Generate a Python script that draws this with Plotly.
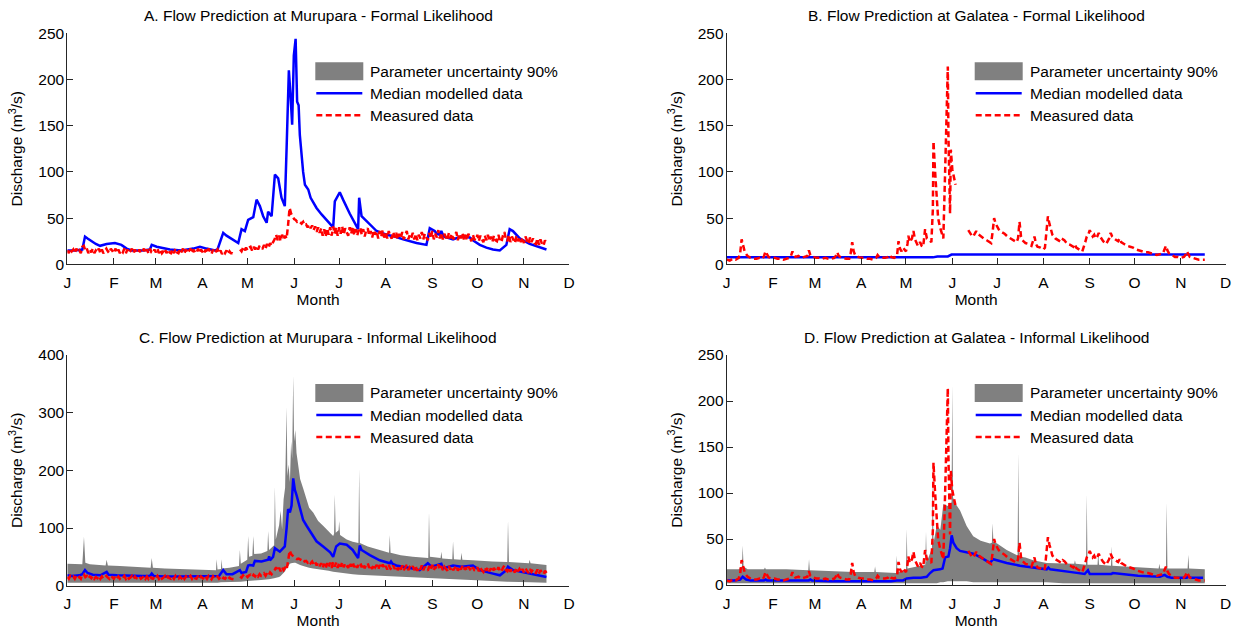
import plotly.graph_objects as go

W, H = 1247, 631
FONT = "Arial, Liberation Sans, Helvetica, sans-serif"
FS = 15.5

MONTH_DAYS = [0, 31, 59, 90, 120, 151, 181, 212, 243, 273, 304, 334]
MONTH_LABELS = ["J", "F", "M", "A", "M", "J", "J", "A", "S", "O", "N", "D"]

TITLES = [
    "A. Flow Prediction at Murupara - Formal Likelihood",
    "B. Flow Prediction at Galatea - Formal Likelihood",
    "C. Flow Prediction at Murupara - Informal Likelihood",
    "D. Flow Prediction at Galatea - Informal Likelihood",
]
LEGEND_LABELS = ["Parameter uncertainty 90%", "Median modelled data", "Measured data"]
Y_TITLE = "Discharge (m<sup>3</sup>/s)"
X_TITLE = "Month"

# ---------------- Murupara measured discharge (daily, day 0 = 1 Jan) ----------------
MUR_MEAS = [
    15, 12, 17, 14, 16, 12, 17, 13, 15, 12,
    19, 20, 15, 17, 12, 16, 13, 17, 12, 15,
    13, 17, 12, 16, 12, 15, 17, 14, 12, 17,
    14, 12, 17, 13, 16, 12, 15, 13, 17, 12,
    16, 12, 14, 17, 12, 16, 13, 12, 16, 12,
    14, 17, 12, 16, 12, 17, 13, 12, 16, 13,
    17, 12, 16, 12, 14, 17, 12, 16, 13, 12,
    16, 12, 17, 13, 12, 16, 13, 17, 12, 16,
    12, 14, 17, 12, 16, 13, 12, 17, 12, 16,
    14, 11, 16, 12, 17, 13, 11, 16, 12, 14,
    16, 12, 15, 11, 14, 12, 15, 11, 14, 12,
    12, 11, None, None, None, 16, 14, 18, 15, 18,
    15, 18, 19, 15, 19, 16, 20, 16, 20, 17,
    17, 21, 17, 22, 18, 23, 20, 24, 27, 32,
    26, 31, 25, 32, 27, 31, 28, 43, 61, 55,
    52, 49, 48, 46, 47, 45, 44, 46, 42, 43,
    40, 43, 39, 42, 37, 41, 35, 40, 34, 39,
    31, 38, 30, 39, 32, 40, 31, 41, 33, 40,
    31, 40, 33, 41, 32, 39, 35, 31, 40, 33,
    41, 32, 38, 31, 37, 40, 32, 38, 30, 37,
    39, 31, 36, 29, 37, 32, 36, 28, 36, 30,
    37, 29, 34, 28, 36, 30, 28, 35, 29, 34,
    27, 33, 28, 35, 27, 33, 36, 27, 32, 29,
    34, 27, 33, 26, 32, 28, 35, 27, 33, 29,
    26, 34, 28, 36, 27, 33, 29, 37, 28, 34,
    27, 33, 30, 26, 34, 28, 33, 27, 31, 35,
    26, 33, 28, 34, 27, 32, 26, 33, 29, 25,
    32, 27, 26, 32, 25, 31, 27, 24, 31, 26,
    32, 25, 30, 24, 31, 26, 25, 32, 26, 24,
    31, 35, 27, 25, 32, 24, 30, 26, 23, 31,
    25, 29, 24, 29, 23, 30, 25, 22, 29, 24,
    28, 23, 22, 28, 21, 27, 22, 20, 26, 22,
]
MUR_MEAS_DAY = list(range(len(MUR_MEAS)))

# ---------------- Galatea measured discharge ----------------
GAL_MEAS_DAY = [
    0, 2, 4, 6, 8, 9, 10, 11, 12, 13,
    14, 16, 18, 20, 22, 24, 25, 26, 27, 28,
    30, 32, 34, 36, 38, 40, 42, 43, 44, 45,
    46, 48, 50, 52, 54, 55, 56, 58, 60, 62,
    64, 66, 68, 70, 72, 73, 74, 75, 76, 78,
    80, 82, 83, 84, 85, 86, 88, 90, 92, 94,
    96, 98, 100, 101, 102, 104, 106, 108, 109, 110,
    112, 114, 115, 116, 117, 118, 120, 121, 121.6, 122.5,
    124, 125, 126, 128, 129.4, 130.5, 131.5, 132.8, 134, 135.7,
    137, 138, 138.4, 139.5, 140.6, 141.5, 142.8, 144, 145, 146.2,
    147.3, 148, 148.4, 149, 149.5, 150, 151, 152, 152.8, 153.2,
    157, 161.7, 163, 164, 165, 166, 167, 168, 170, 172,
    174, 176, 177, 178, 179, 180, 181, 182, 184, 186,
    188, 190, 192, 194, 195, 196, 197, 198, 200, 202,
    204, 205, 206, 207, 208, 210, 212, 213, 214, 215,
    216, 217, 218, 220, 222, 224, 225, 226, 228, 230,
    232, 233, 234, 236, 238, 240, 241, 242, 243, 244,
    245, 246, 247, 248, 249, 250, 252, 254, 256, 257,
    258, 260, 262, 263, 264, 266, 268, 270, 272, 274,
    276, 278, 280, 282, 284, 286, 288, 290, 292, 293,
    294, 295, 296, 298, 300, 302, 304, 306, 307, 308,
    309, 310, 312, 314, 316, 318, 320,
]
GAL_MEAS = [
    5, 4, 6, 5, 7, 12, 27, 20, 14, 11,
    9, 7, 6, 6, 7, 6, 9, 14, 10, 8,
    7, 7, 6, 6, 5, 6, 7, 9, 14, 10,
    8, 9, 7, 8, 9, 15, 10, 8, 7, 7,
    6, 7, 6, 6, 7, 9, 13, 9, 8, 7,
    6, 6, 12, 24, 14, 10, 8, 7, 7, 6,
    6, 5, 7, 10, 8, 7, 7, 8, 10, 8,
    7, 9, 25, 17, 14, 18, 14, 22, 31, 24,
    28, 36, 27, 20, 24, 20, 19, 38, 28, 26,
    24, 60, 133, 100, 68, 50, 40, 32, 28, 100,
    162, 214, 140, 80, 55, 124, 103, 95, 87, 86,
    None, 37, 33, 31, 30, 34, 36, 33, 30, 28,
    26, 24, 23, 35, 50, 44, 40, 38, 35, 33,
    30, 28, 26, 24, 28, 46, 30, 26, 23, 22,
    20, 26, 30, 22, 19, 18, 16, 18, 40, 52,
    44, 38, 32, 28, 26, 24, 27, 26, 22, 21,
    19, 22, 18, 16, 14, 24, 30, 32, 37, 33,
    30, 32, 28, 30, 34, 30, 25, 22, 28, 34,
    30, 27, 25, 28, 24, 22, 20, 19, 18, 16,
    15, 14, 13, 13, 12, 11, 10, 11, 12, 16,
    20, 15, 12, 10, 8, 8, 7, 8, 10, 14,
    10, 8, 7, 6, 5, 5, 5,
]

# ---------------- A: Murupara formal likelihood median ----------------
A_MED_DAY = [
    0, 5, 10, 11.8, 13.5, 16, 19, 21.8, 26.2, 31.7,
    36, 39.5, 42.8, 50, 55, 56.2, 59.5, 68.3, 76, 83.8,
    88.3, 92.7, 98.3, 100, 103.8, 106, 110, 113.8, 116, 118.2,
    120.4, 123.8, 126, 128.2, 130.4, 132.7, 133.7, 136, 138.2, 140.4,
    142.6, 144.8, 146, 147.5, 148.6, 149.7, 150.8, 152, 153, 154,
    154.8, 155.8, 157, 158.2, 160.4, 162, 164, 165.9, 169.3, 173,
    177, 178.1, 181.4, 183.6, 188, 193.6, 194.3, 195.9, 200, 205.9,
    212.5, 218, 223.6, 232.5, 239.1, 241.3, 244.6, 246, 248, 249,
    250.5, 256.8, 262, 267.9, 271, 274.6, 279, 283.4, 287.9, 292.3,
    294.5, 296.7, 301.2, 307.8, 319,
]
A_MED = [
    15, 15, 16, 30, 28, 25, 22, 20, 22, 23,
    21, 17, 15, 15, 16, 21, 19, 16, 15, 17,
    19, 17, 15, 16, 34, 31, 27, 23, 38, 36,
    48, 51, 70, 63, 52, 45, 57, 52, 97, 93,
    72, 63, 126, 210, 183, 151, 226, 244, 176, 172,
    140, 118, 100, 86, 81, 72, 66, 61, 54, 47,
    40, 68, 78, 70, 55, 38, 72, 52, 45, 36,
    32, 30, 27, 23, 21, 39, 36, 33, 32, 36,
    30, 27, 30, 29, 25, 21, 18, 16, 15, 21,
    38, 36, 28, 22, 16,
]

# ---------------- B: Galatea formal likelihood median ----------------
B_MED_DAY = [0, 60, 120, 138, 141, 148, 150.5, 320]
B_MED = [7.5, 7.5, 7.5, 7.5, 8.5, 8.5, 10.5, 10.5]

# ---------------- C: Murupara informal likelihood ----------------
C_MED_DAY = [
    0, 3, 8, 10, 11.8, 13.5, 17, 22, 26.2, 27.5,
    33, 42, 50, 55, 56.2, 57.5, 65, 75, 85, 95,
    99.4, 101, 103.8, 106, 110, 114.9, 116, 119, 120.4, 121.6,
    123.8, 124.9, 129.3, 133.7, 134.4, 134.9, 137, 138.2, 141.5, 144.8,
    146, 147, 148.2, 149.3, 150.4, 151.5, 152.6, 154.8, 157, 159.3,
    161.5, 165.9, 170.3, 175, 177, 179, 181.4, 186, 190, 193.6,
    194.7, 195.9, 201.4, 208, 214.7, 215.5, 216.5, 219, 230, 234.6,
    240, 242.4, 249, 250, 256.8, 262.4, 270, 274.6, 283.4, 288,
    292.3, 293.4, 296.7, 307.8, 319,
]
C_MED = [
    18, 17, 18, 20, 27, 22, 19, 18, 24, 19,
    18, 17, 17, 17, 21, 17, 16, 16, 16, 16,
    16, 17, 27, 20, 20, 27, 22, 24, 35, 36,
    35, 43, 42, 45, 51, 44, 50, 65, 59, 68,
    100, 133, 127, 139, 186, 166, 157, 134, 114, 104,
    95, 77, 68, 58, 50, 68, 73, 71, 62, 48,
    70, 62, 53, 44, 39, 42, 38, 35, 30, 27,
    39, 33, 38, 30, 35, 33, 35, 27, 21, 18,
    27, 33, 27, 21, 15,
]
C_BAND_DAY = [
    0, 5, 10, 11.1, 12, 15, 20, 25.5, 26.2, 27,
    35, 45, 55.5, 56.2, 57, 65, 75, 85, 95, 99,
    99.4, 100, 102.3, 102.7, 103.2, 108, 114.3, 114.9, 115.5, 119.8,
    120.4, 121, 123.2, 123.8, 124.4, 129, 133.2, 133.7, 134.3, 137.7,
    138.2, 138.8, 141, 142, 143, 144, 145, 145.5, 146, 146.5,
    147.3, 148.2, 149, 149.7, 150.4, 151, 151.8, 152.6, 153.5, 154.3,
    155, 157, 159.3, 161, 163.7, 167, 170.3, 174, 177, 177.6,
    178.1, 178.7, 180.6, 181, 181.6, 186, 190, 193.8, 194.3, 194.8,
    200, 208, 214.2, 214.7, 215.2, 222, 230, 240.3, 240.8, 241.4,
    248.5, 249, 249.6, 256.3, 256.8, 257.4, 261.9, 262.4, 263, 270,
    274.6, 283, 292.9, 293.4, 294, 300, 307.3, 307.8, 308.4, 319,
]
C_BAND_HI = [
    38, 37, 37, 85, 40, 37, 36, 35, 45, 35,
    34, 33, 31, 48, 31, 30, 29, 28, 27, 27,
    46, 28, 29, 46, 30, 31, 34, 62, 38, 45,
    86, 50, 52, 86, 55, 56, 60, 95, 62, 70,
    172, 80, 105, 130, 98, 150, 170, 230, 310, 190,
    210, 180, 250, 220, 364, 250, 270, 230, 210, 195,
    185, 169, 151, 135, 127, 112, 104, 94, 86, 90,
    158, 92, 96, 112, 88, 80, 76, 74, 203, 74,
    68, 62, 57, 88, 57, 53, 50, 48, 128, 50,
    48, 59, 47, 46, 77, 46, 45, 57, 45, 44,
    43, 42, 41, 113, 41, 40, 39, 45, 39, 36,
]
C_BAND_LO = [
    5, 5, 5, 5, 5, 5, 5, 5, 5, 5,
    5, 5, 5, 5, 5, 5, 5, 5, 5, 5,
    5, 5, 6, 6, 6, 6, 7, 7, 7, 8,
    8, 8, 9, 9, 9, 10, 11, 11, 11, 13,
    13, 13, 15, 17, 20, 22, 25, 28, 30, 32,
    35, 38, 39, 40, 40, 40, 40, 39, 38, 37,
    36, 34, 32, 31, 30, 28, 27, 26, 24, 23,
    23, 23, 22, 22, 22, 21, 20, 19, 19, 19,
    18, 17, 16, 16, 16, 15, 14, 13, 13, 13,
    12, 12, 12, 11, 11, 11, 10, 10, 10, 9,
    9, 8, 7, 7, 7, 7, 6, 6, 6, 5,
]

# ---------------- D: Galatea informal likelihood ----------------
D_MED_DAY = [
    0, 5, 9, 10.7, 13, 16, 25, 26, 27, 40,
    55, 56, 57, 70, 85, 100, 110, 113.8, 118, 120.5,
    125, 130, 133.9, 136.1, 138.4, 142.8, 144.5, 146.2, 148.4, 149.5,
    150.6, 151.7, 153.9, 156.2, 160, 165, 170, 176.2, 178.4, 180.7,
    187.4, 196.3, 205.2, 214.2, 215.3, 216.5, 230.7, 239.6, 241.8, 243,
    257.4, 258.5, 275.3, 290, 293.2, 295, 297.6, 308, 309, 310,
    318.8,
]
D_MED = [
    5, 5, 6, 9, 6, 5, 5, 6, 5, 5,
    5, 6, 5, 4, 4, 4, 4, 5, 5, 7,
    8, 8, 9, 13, 16, 17, 18, 30, 31, 40,
    54, 46, 40, 37, 36, 34, 30, 24, 28, 27,
    24, 21, 19, 17, 19, 17, 14, 12, 16, 12,
    12, 13, 10, 9, 11, 9, 8, 8, 10, 8,
    8,
]
D_BAND_DAY = [
    0, 8, 10.2, 10.7, 11.3, 14, 25, 25.6, 26.2, 40,
    54.6, 55.1, 55.6, 70, 85, 98.8, 99.3, 99.8, 110, 113.3,
    113.8, 114.3, 120, 120.5, 121, 126, 132.9, 133.4, 133.9, 137.4,
    137.9, 138.4, 140.6, 143, 145, 148, 150.5, 151, 151.5, 152.8,
    156.2, 160.6, 165, 170, 176.2, 177.5, 178, 178.5, 181, 187.4,
    194.7, 195.2, 195.7, 200, 205.2, 214.2, 225, 232.6, 233.1, 233.6,
    240.5, 241, 241.5, 248.2, 248.7, 249.2, 257.2, 257.7, 258.2, 267.7,
    276.6, 289.1, 289.6, 290.1, 294, 294.5, 295, 308.5, 309, 309.5,
    320,
]
D_BAND_HI = [
    17, 17, 20, 43, 20, 17, 17, 19, 17, 17,
    16, 28, 16, 15, 14, 14, 20, 14, 13, 13,
    32, 14, 16, 61, 18, 20, 22, 58, 25, 40,
    122, 45, 65, 60, 88, 86, 90, 218, 95, 89,
    81, 64, 53, 48, 45, 46, 67, 47, 45, 38,
    32, 144, 31, 30, 27, 24, 23, 23, 27, 23,
    22, 99, 22, 22, 36, 22, 21, 42, 21, 20,
    19, 18, 23, 18, 18, 90, 18, 18, 33, 18,
    17,
]
D_BAND_LO = [
    2, 2, 2, 2, 2, 2, 2, 2, 2, 2,
    2, 2, 2, 2, 2, 2, 2, 2, 2, 2,
    2, 2, 2, 2, 2, 2, 2, 2, 2, 2,
    2, 2, 2, 3, 3, 4, 4, 4, 4, 4,
    4, 4, 3, 3, 3, 3, 3, 3, 3, 3,
    3, 3, 3, 3, 3, 3, 2, 2, 2, 2,
    2, 2, 2, 2, 2, 2, 2, 2, 2, 2,
    2, 2, 2, 2, 2, 2, 2, 2, 2, 2,
    2,
]

for a, b, name in [
    (MUR_MEAS_DAY, MUR_MEAS, "mur"), (GAL_MEAS_DAY, GAL_MEAS, "gal"),
    (A_MED_DAY, A_MED, "A"), (B_MED_DAY, B_MED, "B"), (C_MED_DAY, C_MED, "C"),
    (C_BAND_DAY, C_BAND_HI, "Chi"), (C_BAND_DAY, C_BAND_LO, "Clo"),
    (D_MED_DAY, D_MED, "D"), (D_BAND_DAY, D_BAND_HI, "Dhi"), (D_BAND_DAY, D_BAND_LO, "Dlo"),
]:
    assert len(a) == len(b), (name, len(a), len(b))

BLUE = "#0000FF"
RED = "#FF0000"
GRAY = "#808080"
AXC = "#262626"
LW = 2.5
DASH = "6px,3.5px"

# panel pixel boxes: left, right, top, bottom
PANELS = [
    (67.3, 569.0, 33.3, 264.3),
    (726.7, 1225.7, 33.3, 264.3),
    (67.3, 569.0, 355.0, 585.7),
    (726.7, 1225.7, 355.0, 585.0),
]
YMAX = [250, 250, 400, 250]
YSTEP = [50, 50, 100, 50]

fig = go.Figure()


def axn(i):
    return "" if i == 0 else str(i + 1)


def add_band(i, days, hi, lo):
    fig.add_trace(go.Scatter(
        x=list(days) + list(days)[::-1], y=list(hi) + list(lo)[::-1],
        fill="toself", fillcolor=GRAY, line=dict(width=0, color=GRAY),
        mode="lines", hoverinfo="skip",
        xaxis="x" + axn(i), yaxis="y" + axn(i)))


def add_line(i, days, vals, color, dash=None):
    fig.add_trace(go.Scatter(
        x=days, y=vals, mode="lines",
        line=dict(color=color, width=LW, dash=dash),
        connectgaps=False,
        xaxis="x" + axn(i), yaxis="y" + axn(i)))


# A
add_line(0, A_MED_DAY, A_MED, BLUE)
add_line(0, MUR_MEAS_DAY, MUR_MEAS, RED, DASH)
# B
add_line(1, B_MED_DAY, B_MED, BLUE)
add_line(1, GAL_MEAS_DAY, GAL_MEAS, RED, DASH)
# C
add_band(2, C_BAND_DAY, C_BAND_HI, C_BAND_LO)
add_line(2, C_MED_DAY, C_MED, BLUE)
add_line(2, MUR_MEAS_DAY, MUR_MEAS, RED, DASH)
# D
add_band(3, D_BAND_DAY, D_BAND_HI, D_BAND_LO)
add_line(3, D_MED_DAY, D_MED, BLUE)
add_line(3, GAL_MEAS_DAY, GAL_MEAS, RED, DASH)

layout = dict(
    width=W, height=H, margin=dict(l=0, r=0, t=0, b=0),
    paper_bgcolor="white", plot_bgcolor="white", showlegend=False,
    font=dict(family=FONT, size=FS, color="black"),
)
shapes = []
annotations = []
tfont = dict(family=FONT, size=FS, color="black")

for i, (l, r, t, b) in enumerate(PANELS):
    n = axn(i)
    layout["xaxis" + n] = dict(
        domain=[l / W, r / W], anchor="y" + n, range=[0, 334],
        tickmode="array", tickvals=MONTH_DAYS, ticktext=MONTH_LABELS,
        ticks="inside", ticklen=6, tickwidth=1, tickcolor=AXC,
        showline=True, linecolor=AXC, linewidth=1, mirror=False,
        showgrid=False, zeroline=False, tickfont=tfont,
        ticklabelstandoff=4, automargin=False, fixedrange=True,
        title=dict(text=X_TITLE, font=tfont, standoff=2),
    )
    layout["yaxis" + n] = dict(
        domain=[1 - b / H, 1 - t / H], anchor="x" + n, range=[0, YMAX[i]],
        tickmode="array", tickvals=list(range(0, YMAX[i] + 1, YSTEP[i])),
        ticks="inside", ticklen=6, tickwidth=1, tickcolor=AXC,
        showline=True, linecolor=AXC, linewidth=1, mirror=False,
        showgrid=False, zeroline=False, tickfont=tfont,
        ticklabelstandoff=-1, automargin=False, fixedrange=True,
        title=dict(text=Y_TITLE, font=tfont, standoff=11),
    )
    annotations.append(dict(
        text=TITLES[i], x=(l + r) / 2 / W, y=1 - (t - 18) / H,
        xref="paper", yref="paper", xanchor="center", yanchor="middle",
        showarrow=False, font=tfont))
    # legend (drawn manually, MATLAB-style)
    rx0, rx1 = l + 248, l + 296
    shapes.append(dict(type="rect", xref="paper", yref="paper",
                       x0=rx0 / W, x1=rx1 / W, y0=1 - (t + 29) / H, y1=1 - (t + 47) / H,
                       fillcolor=GRAY, line=dict(width=0)))
    shapes.append(dict(type="line", xref="paper", yref="paper",
                       x0=(l + 249) / W, x1=(l + 295) / W, y0=1 - (t + 60) / H, y1=1 - (t + 60) / H,
                       line=dict(color=BLUE, width=LW)))
    shapes.append(dict(type="line", xref="paper", yref="paper",
                       x0=(l + 249) / W, x1=(l + 295) / W, y0=1 - (t + 82) / H, y1=1 - (t + 82) / H,
                       line=dict(color=RED, width=LW, dash=DASH)))
    for k, dy in enumerate([38, 60, 82]):
        annotations.append(dict(
            text=LEGEND_LABELS[k], x=(l + 301) / W, y=1 - (t + dy) / H,
            xref="paper", yref="paper", xanchor="left", yanchor="middle",
            showarrow=False, font=tfont))

layout["shapes"] = shapes
layout["annotations"] = annotations
fig.update_layout(**layout)

fig.write_html("out.html")
